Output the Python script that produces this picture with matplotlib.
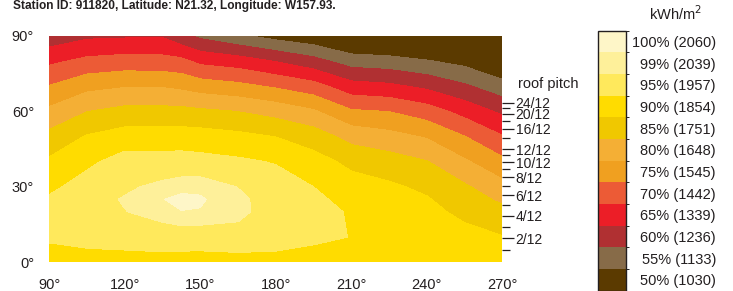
import matplotlib
matplotlib.use("Agg")
import matplotlib.pyplot as plt
import numpy as np
from matplotlib.colors import ListedColormap, BoundaryNorm

plt.rcParams['font.family'] = ['Liberation Sans', 'DejaVu Sans']

# azimuth (deg) and tilt (deg) of the table below
azimuth = [90, 105, 120, 135, 142.5, 150, 165, 180, 195, 210, 225, 240, 255, 270]
tilt = [0, 10, 20, 25, 30, 40, 50, 60, 70, 80, 90]

# percent of max annual insolation, rows = tilt, cols = azimuth
pct = [
    [90.5, 90.5, 90.5, 90.5, 90.5, 90.5, 90.5, 90.5, 90.5, 90.5, 90.5, 90.5, 90.5, 90.5],
    [93.1, 94.1, 94.6, 95.3, 95.0, 94.9, 95.6, 95.0, 93.4, 92.4, 91.0, 90.0, 89.0, 87.75],
    [94.0, 95.8, 96.9, 98.2, 99.4, 99.35, 97.9, 95.2, 93.6, 92.2, 90.2, 88.8, 86.4, 83.8],
    [93.2, 95.6, 97.3, 99.4, 100.3, 99.8, 97.9, 95.0, 93.3, 91.3, 89.3, 87.9, 84.8, 81.6],
    [91.4, 94.7, 96.4, 97.9, 98.6, 98.9, 96.9, 94.6, 92.5, 89.5, 88.3, 86.5, 83.2, 79.2],
    [88.3, 91.4, 94.6, 94.4, 94.5, 94.1, 93.3, 92.2, 89.4, 86.3, 84.7, 82.7, 78.2, 73.7],
    [84.0, 87.9, 89.6, 89.8, 89.8, 89.6, 88.75, 87.4, 85.1, 80.7, 79.1, 77.0, 72.6, 67.8],
    [78.6, 82.4, 84.0, 84.0, 83.9, 83.4, 82.4, 80.6, 78.1, 73.1, 72.4, 69.9, 65.7, 61.5],
    [72.7, 76.0, 77.1, 77.1, 76.3, 75.0, 73.8, 71.8, 69.4, 64.4, 63.5, 61.4, 58.2, 54.5],
    [66.4, 68.7, 69.5, 69.2, 68.7, 66.2, 64.8, 62.2, 59.2, 55.1, 54.4, 52.8, 50.9, 47.0],
    [59.3, 61.5, 61.8, 62.0, 59.0, 56.4, 53.3, 50.6, 48.7, 45.7, 45.0, 44.5, 43.7, 39.4],
]

band_pct = [50, 55, 60, 65, 70, 75, 80, 85, 90, 95, 99, 100]
band_kwh = [1030, 1133, 1236, 1339, 1442, 1545, 1648, 1751, 1854, 1957, 2039, 2060]
levels = [0, 52.5, 57.5, 62.5, 67.5, 72.5, 77.5, 82.5, 87.5, 92.5, 97, 99.5, 110]
colors = ['#5b3a00', '#876b48', '#b03032', '#ec1e27', '#ec5b36', '#f0a020',
          '#f4af35', '#f0c800', '#ffdc00', '#ffe95c', '#fef09a', '#fef6c8']

pitch_major = [2, 4, 6, 8, 10, 12, 16, 20, 24]
pitch_minor = [1, 3, 5, 7, 9, 11, 14, 18, 22]

cmap = ListedColormap(colors)
norm = BoundaryNorm(levels, cmap.N)

fig = plt.figure(figsize=(7.33, 2.91), dpi=100)
ax = fig.add_axes([0.0673, 0.0986, 0.618, 0.7787])

A, T = np.meshgrid(azimuth, tilt)
cf = ax.contourf(A, T, np.array(pct), levels=levels, cmap=cmap, norm=norm)

ax.set_xlim(90, 270)
ax.set_ylim(0, 90)
ax.set_xticks([90, 120, 150, 180, 210, 240, 270])
ax.set_xticklabels([f'{v}°' for v in [90, 120, 150, 180, 210, 240, 270]])
ax.set_yticks([0, 30, 60, 90])
ax.set_yticklabels([f'{v}°' for v in [0, 30, 60, 90]])
ax.tick_params(length=0, labelsize=10.5, colors='#231f20')
ax.tick_params(axis='x', pad=11)
ax.tick_params(axis='y', pad=11)
for s in ax.spines.values():
    s.set_visible(False)

# roof pitch axis on the right
ax2 = ax.twinx()
ax2.set_ylim(0, 90)
ax2.set_yticks([np.degrees(np.arctan(p / 12)) for p in pitch_major])
ax2.set_yticklabels([f'{p}/12' for p in pitch_major])
ax2.set_yticks([np.degrees(np.arctan(p / 12)) for p in pitch_minor], minor=True)
ax2.tick_params(axis='y', which='major', length=8.5, width=0.9, pad=1,
                labelsize=10, colors='#231f20')
ax2.tick_params(axis='y', which='minor', length=5.5, width=0.9, color='#231f20')
for s in ax2.spines.values():
    s.set_visible(False)
ax2.text(1.035, 0.785, 'roof pitch', transform=ax.transAxes, fontsize=10.5,
         color='#231f20', ha='left', va='center')

# colour key
cax = fig.add_axes([0.8162, 0.0017, 0.0374, 0.8928])
cb = fig.colorbar(cf, cax=cax, spacing='uniform',
                  ticks=[(levels[i] + levels[i + 1]) / 2 for i in range(len(band_pct))])
cb.set_ticklabels([f'{p}% ({k})' for p, k in zip(band_pct, band_kwh)])
cb.outline.set_linewidth(1.0)
cb.outline.set_edgecolor('#231f20')
cax.tick_params(length=0, pad=65, labelsize=10.5, colors='#231f20')
for t in cax.get_yticklabels():
    t.set_ha('right')
fig.text(0.921, 0.952, 'kWh/m$^2$', ha='center', va='center', fontsize=10.5,
         color='#231f20')

fig.text(0.0173, 1 - 8.5 / 291, 'Station ID: 911820, Latitude: N21.32, Longitude: W157.93.',
         ha='left', va='baseline', fontsize=8.6, fontweight='bold', color='#231f20')

fig.savefig('out.png', dpi=100)
